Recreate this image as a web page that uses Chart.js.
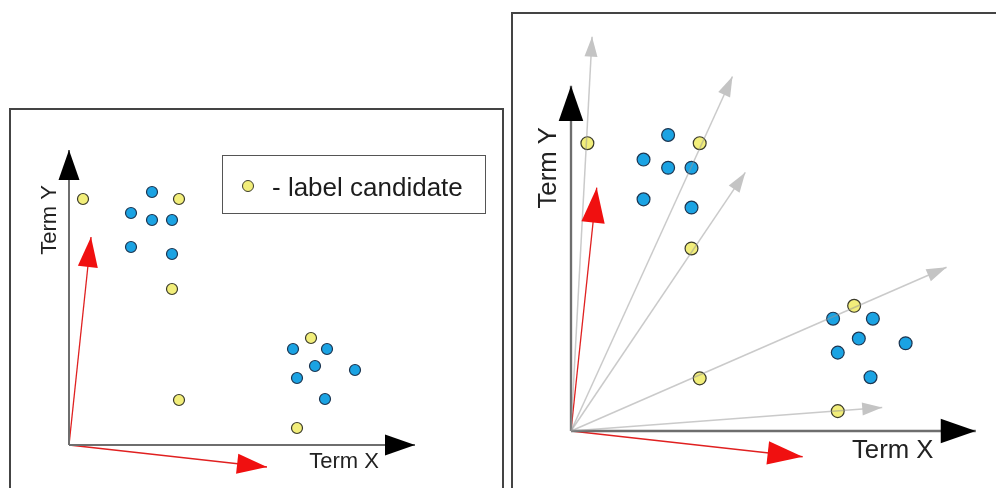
<!DOCTYPE html>
<html>
<head>
<meta charset="utf-8">
<script src="https://cdn.jsdelivr.net/npm/chart.js@4.4.1/dist/chart.umd.min.js"></script>
<style>
  html, body { margin: 0; padding: 0; background: #fff; }
  body { width: 996px; height: 488px; overflow: hidden; position: relative; font-family: "Liberation Sans", Arial, sans-serif; }
  .frame { position: absolute; border: 2px solid #444; box-sizing: border-box; }
  #frameLeft { left: 9px; top: 108px; width: 495px; height: 430px; }
  #frameRight { left: 511px; top: 12px; width: 520px; height: 530px; }
  canvas { position: absolute; }
  #legendBox { position: absolute; left: 222px; top: 155px; width: 264px; height: 59px; border: 1.5px solid #555; box-sizing: border-box; }
  #legendDot { position: absolute; left: 242px; top: 180px; width: 12px; height: 12px; border-radius: 50%; background: #f2ee7a; border: 1px solid #3a3a2a; box-sizing: border-box; }
  #legendText { position: absolute; left: 272px; top: 172px; font-size: 26px; line-height: 30px; color: #1c1c1c; white-space: nowrap; }
</style>
</head>
<body>
<div class="frame" id="frameLeft"></div>
<div class="frame" id="frameRight"></div>
<canvas id="leftChart" width="490" height="378" style="left:11px; top:110px;"></canvas>
<canvas id="rightChart" width="483" height="474" style="left:513px; top:14px;"></canvas>
<div id="legendBox"></div>
<div id="legendDot"></div>
<div id="legendText">- label candidate</div>

<script>
// term-space coordinates (same for both panels, right one is just drawn bigger)
const blueX = [83, 62, 83, 103, 62, 103, 224, 258, 246, 228, 286, 256];
const blueY = [253, 232, 225, 225, 198, 191, 96, 96, 79, 67, 75, 46];
const yellowX = [14, 110, 103, 110, 242, 228];
const yellowY = [246, 246, 156, 45, 107, 17];

const axisTips = [[346, 0], [0, 295]];        // Term X, Term Y
const redTips = [[198, -22], [22, 208]];     // the two red vectors
const grayTips = [[18, 337], [138, 303], [149, 221], [321, 140], [266, 20]]; // right panel only

const axisLabels = ['Term X', 'Term Y'];
const labelPos = [[275, -17], [-19, 225]];

function toPoints(xs, ys) {
  return xs.map((x, i) => ({ x: x, y: ys[i] }));
}

function arrowSets(tips, color, width, order) {
  return tips.map(t => ({
    type: 'line',
    data: [{ x: 0, y: 0 }, { x: t[0], y: t[1] }],
    borderColor: color,
    borderWidth: width,
    pointRadius: 0,
    fill: false,
    order: order
  }));
}

// arrowheads + axis names, placed through the chart scales
const decorPlugin = {
  id: 'decor',
  afterDatasetsDraw(chart, args, opts) {
    const ctx = chart.ctx;
    const xs = chart.scales.x, ys = chart.scales.y;
    const k = opts.k;
    const ox = xs.getPixelForValue(0), oy = ys.getPixelForValue(0);

    function head(t, color, len, wid) {
      const px = xs.getPixelForValue(t[0]), py = ys.getPixelForValue(t[1]);
      const dx = px - ox, dy = py - oy;
      const d = Math.sqrt(dx * dx + dy * dy);
      const ux = dx / d, uy = dy / d;
      const bx = px - ux * len, by = py - uy * len;
      ctx.beginPath();
      ctx.moveTo(px, py);
      ctx.lineTo(bx - uy * wid / 2, by + ux * wid / 2);
      ctx.lineTo(bx + uy * wid / 2, by - ux * wid / 2);
      ctx.closePath();
      ctx.fillStyle = color;
      ctx.fill();
    }

    ctx.save();
    if (opts.gray) grayTips.forEach(t => head(t, '#c4c4c4', 20, 13));
    axisTips.forEach(t => head(t, '#000', 30 * k, 21 * k));
    redTips.forEach(t => head(t, '#f01010', 30 * k, 20 * k));

    ctx.fillStyle = '#222';
    ctx.font = (22 * k) + 'px "Liberation Sans", Arial, sans-serif';
    ctx.textAlign = 'center';
    ctx.textBaseline = 'middle';
    ctx.fillText(axisLabels[0], xs.getPixelForValue(labelPos[0][0]), ys.getPixelForValue(labelPos[0][1]));
    ctx.translate(xs.getPixelForValue(labelPos[1][0]), ys.getPixelForValue(labelPos[1][1]));
    ctx.rotate(-Math.PI / 2);
    ctx.fillText(axisLabels[1], 0, 0);
    ctx.restore();
  }
};

function makePanel(canvasId, box, origin, k, withGray) {
  const datasets = [
    {
      data: toPoints(yellowX, yellowY),
      backgroundColor: '#f2ee7a',
      borderColor: '#3a3a2a',
      borderWidth: 1.2,
      pointRadius: 5.5 * k,
      order: 1
    },
    {
      data: toPoints(blueX, blueY),
      backgroundColor: '#1ba3e3',
      borderColor: '#1d3550',
      borderWidth: 1.2,
      pointRadius: 5.5 * k,
      order: 1
    }
  ]
    .concat(arrowSets(axisTips, '#6e6e6e', 2 * k, 3))
    .concat(arrowSets(redTips, '#e02020', 1.3, 3));
  if (withGray) datasets.push(...arrowSets(grayTips, 'rgba(150,150,150,0.5)', 1.5, 0));

  return new Chart(document.getElementById(canvasId), {
    type: 'scatter',
    data: { datasets: datasets },
    options: {
      responsive: false,
      animation: false,
      events: [],
      layout: { padding: 0, autoPadding: false },
      plugins: { legend: { display: false }, tooltip: { enabled: false }, decor: { k: k, gray: withGray } },
      scales: {
        x: { type: 'linear', display: false, bounds: 'data',
             min: (box.left - origin[0]) / k, max: (box.left + box.w - origin[0]) / k },
        y: { type: 'linear', display: false, bounds: 'data',
             min: (origin[1] - box.top - box.h) / k, max: (origin[1] - box.top) / k }
      }
    },
    plugins: [decorPlugin]
  });
}

makePanel('leftChart', { left: 11, top: 110, w: 490, h: 378 }, [69, 445], 1, false);
makePanel('rightChart', { left: 513, top: 14, w: 483, h: 474 }, [571, 431], 1.17, true);
</script>
</body>
</html>
